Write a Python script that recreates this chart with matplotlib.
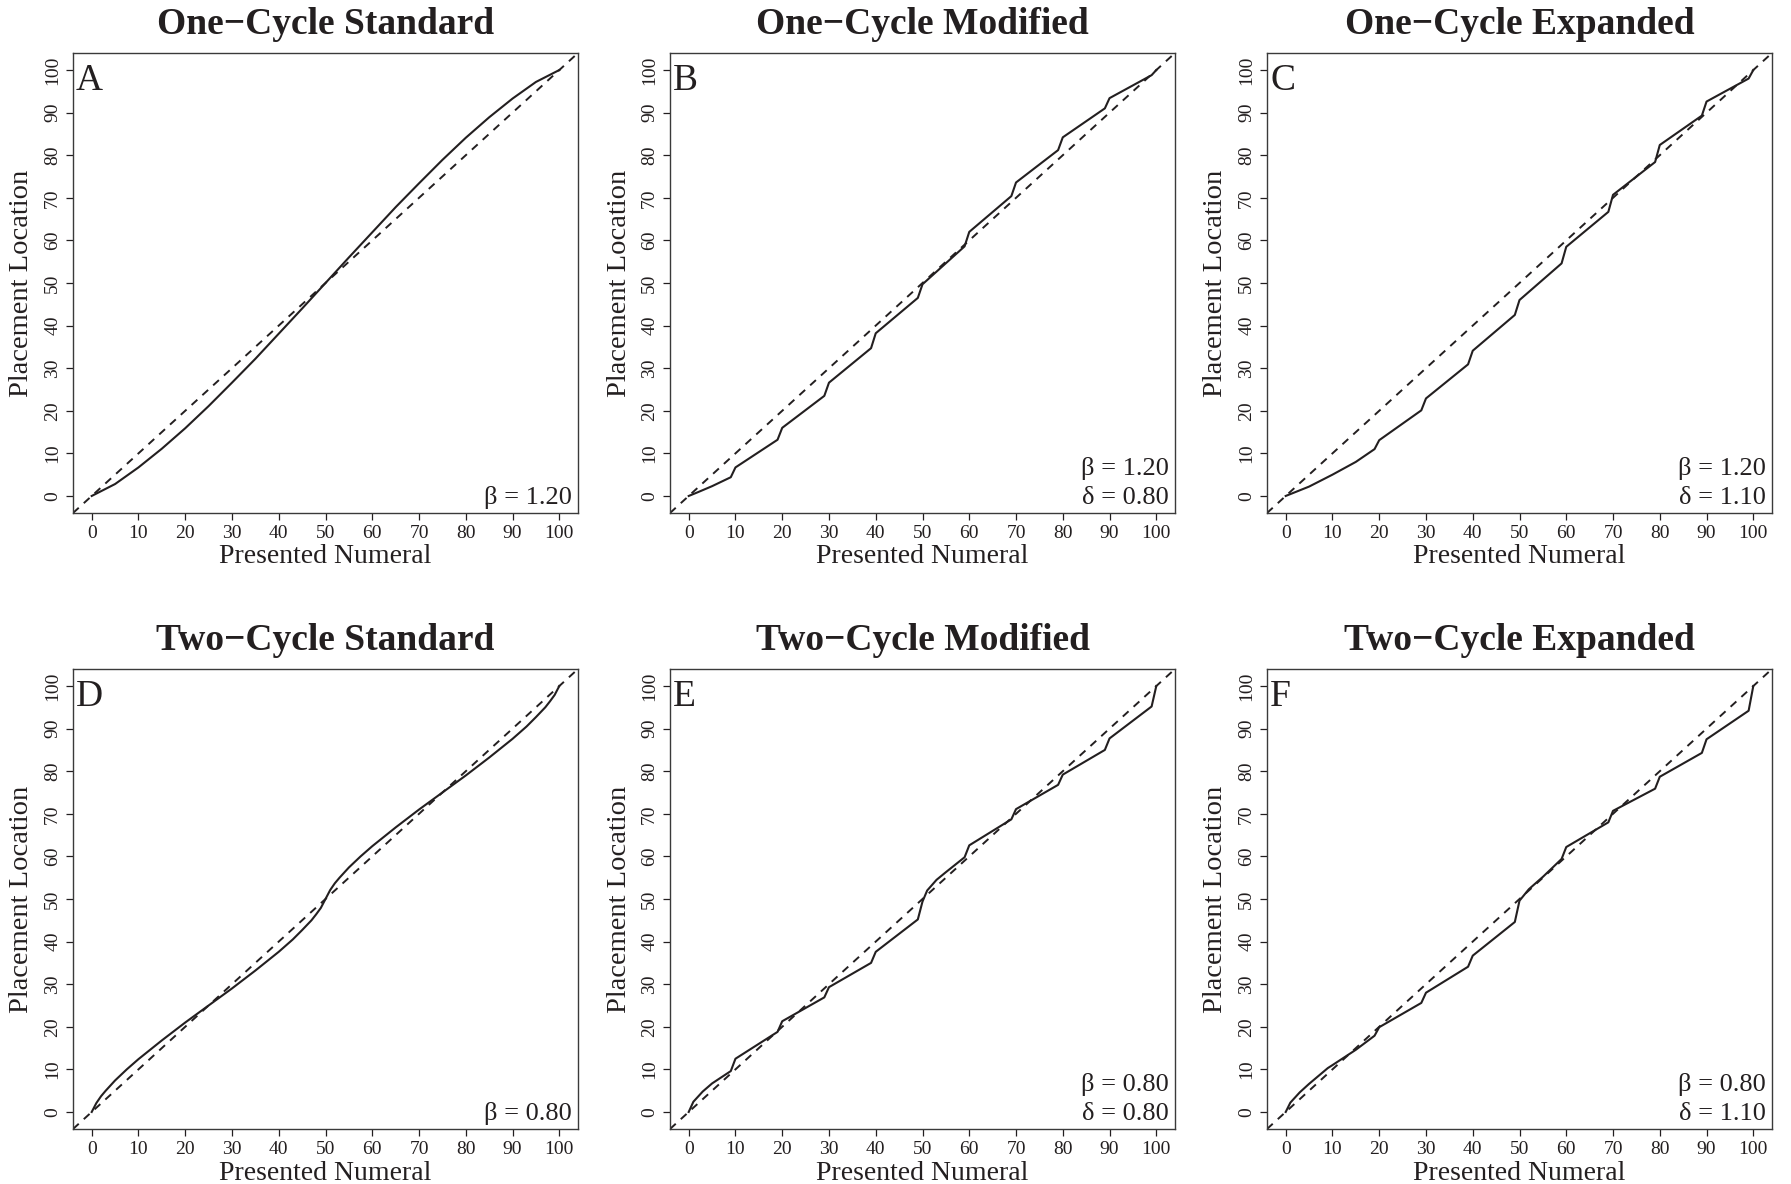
import numpy as np
import matplotlib
matplotlib.use("Agg")
import matplotlib.pyplot as plt

plt.rcParams['font.family'] = ['Liberation Serif', 'DejaVu Serif']

ink = '#231f20'

# Panel titles, letters and parameter notes
titles = ['One\u2212Cycle Standard', 'One\u2212Cycle Modified', 'One\u2212Cycle Expanded',
          'Two\u2212Cycle Standard', 'Two\u2212Cycle Modified', 'Two\u2212Cycle Expanded']
letters = ['A', 'B', 'C', 'D', 'E', 'F']
notes = [['\u03b2 = 1.20'],
         ['\u03b2 = 1.20', '\u03b4 = 0.80'],
         ['\u03b2 = 1.20', '\u03b4 = 1.10'],
         ['\u03b2 = 0.80'],
         ['\u03b2 = 0.80', '\u03b4 = 0.80'],
         ['\u03b2 = 0.80', '\u03b4 = 1.10']]

# curves (presented numeral -> placement location)
xA = [0, 5, 10, 15, 20, 25, 30, 35, 40, 45, 50, 55, 60, 65, 70, 75, 80, 85, 90, 95, 100]
yA = [0, 2.8, 6.7, 11.1, 15.9, 21.1, 26.6, 32.2, 38.1, 44.0, 50.0, 56.0, 61.9, 67.8,
      73.4, 78.9, 84.1, 88.9, 93.3, 97.2, 100]

xB = [0, 2, 5, 9, 10, 19, 20, 29, 30, 39, 40, 49, 50, 59, 60, 69, 70, 79, 80, 89, 90, 99, 100]
yB = [0, 0.9, 2.3, 4.4, 6.7, 13.2, 16.0, 23.5, 26.6, 34.7, 38.2, 46.5, 49.7, 58.6, 62.0,
      70.4, 73.6, 81.2, 84.2, 91.0, 93.4, 98.8, 100]

xC = [0, 5, 10, 15, 19, 20, 29, 30, 39, 40, 49, 50, 59, 60, 69, 70, 79, 80, 89, 90, 99, 100]
yC = [0, 2.2, 5.0, 8.0, 11.0, 13.1, 20.1, 22.9, 30.9, 34.1, 42.5, 46.0, 54.6, 58.5,
      66.7, 70.7, 78.4, 82.4, 89.3, 92.6, 98.0, 100]

xD = [0, 1, 2, 3, 5, 7.5, 10, 15, 20, 25, 30, 35, 40, 43, 45, 47, 48, 49, 50,
      51, 52, 53, 55, 57.5, 60, 65, 70, 75, 80, 85, 90, 93, 95, 97, 98, 99, 100]
yD = [0, 2.1, 3.7, 5.0, 7.4, 10.0, 12.4, 16.8, 21.0, 25.0, 29.0, 33.2, 37.6, 40.5, 42.7,
      45.0, 46.4, 47.9, 50.0, 52.1, 53.7, 55.0, 57.4, 60.0, 62.4, 66.8, 71.0, 75.0, 79.0,
      83.2, 87.6, 90.5, 92.7, 95.0, 96.4, 97.9, 100]

xE = [0, 1, 3, 5, 9, 10, 19, 20, 29, 30, 39, 40, 49, 50, 51, 53, 55, 59, 60,
      69, 70, 79, 80, 89, 90, 99, 100]
yE = [0, 2.4, 4.8, 6.7, 9.6, 12.5, 18.8, 21.3, 26.9, 29.3, 35.0, 37.6, 45.2, 49.4, 52.0,
      54.5, 56.3, 59.8, 62.6, 68.7, 71.1, 76.8, 79.2, 85.0, 87.7, 95.2, 100]

xF = [0, 1, 3, 5, 9, 10, 15, 19, 20, 29, 30, 39, 40, 49, 50, 52, 55, 59, 60,
      69, 70, 79, 80, 89, 90, 99, 100]
yF = [0, 2.2, 4.6, 6.6, 10.3, 11.0, 14.6, 17.9, 19.9, 25.6, 28.0, 34.1, 36.7, 44.6, 49.6,
      52.3, 55.2, 59.4, 62.2, 68.0, 70.7, 75.9, 78.7, 84.3, 87.5, 94.2, 100]

curves = [(xA, yA), (xB, yB), (xC, yC), (xD, yD), (xE, yE), (xF, yF)]
ticks = list(range(0, 101, 10))

W, H = 1791, 1184
fig = plt.figure(figsize=(W / 100, H / 100), dpi=100)

lefts = [73, 670, 1267]
bottoms = [513, 1129]
aw, ah = 505, 460

for i in range(6):
    r, c = divmod(i, 3)
    ax = fig.add_axes([lefts[c] / W, 1 - bottoms[r] / H, aw / W, ah / H])
    ax.set_xlim(-4, 104)
    ax.set_ylim(-4, 104)

    ax.plot([-4, 104], [-4, 104], color=ink, lw=1.4, ls=(0, (4, 3.5)))
    x, y = curves[i]
    ax.plot(x, y, color=ink, lw=1.5)

    ax.set_xticks(ticks)
    ax.set_yticks(ticks)
    ax.tick_params(direction='out', length=5, width=0.9, colors=ink, labelsize=14, pad=3.5)
    for lab in ax.get_yticklabels():
        lab.set_rotation(90)
        lab.set_va('center')
    for s in ax.spines.values():
        s.set_color('#3a3a3a')
        s.set_linewidth(1.0)

    ax.text(0.5, 1 + 28 / ah, titles[i], transform=ax.transAxes, ha='center', va='center',
            fontsize=27, fontweight='bold', color=ink)
    ax.text(0.5, -44 / ah, 'Presented Numeral', transform=ax.transAxes, ha='center',
            va='center', fontsize=20, color=ink)
    ax.text(-51 / aw, 0.5, 'Placement Location', transform=ax.transAxes, ha='center',
            va='center', rotation=90, fontsize=20.5, color=ink)
    ax.text(3 / aw, 1 - 11 / ah, letters[i], transform=ax.transAxes, ha='left', va='top',
            fontsize=27, color=ink)

    lines = notes[i]
    for k, t in enumerate(reversed(lines)):
        ax.text(1 - 6 / aw, (9 + 29 * k) / ah, t, transform=ax.transAxes, ha='right',
                va='baseline', fontsize=19, color=ink)

fig.savefig('out.png', dpi=100)
